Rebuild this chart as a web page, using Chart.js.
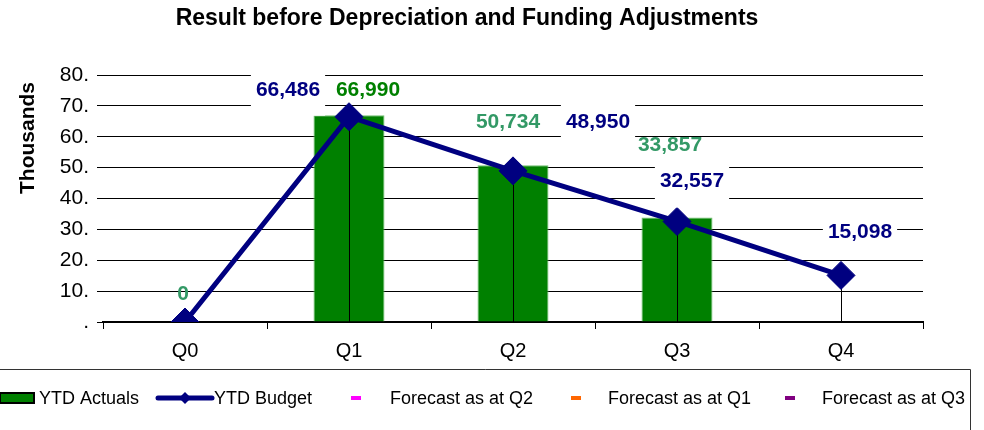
<!DOCTYPE html>
<html>
<head>
<meta charset="utf-8">
<title>Result before Depreciation and Funding Adjustments</title>
<script src="https://cdn.jsdelivr.net/npm/chart.js@4.4.1/dist/chart.umd.min.js"></script>
<style>
  body { margin: 0; background: #fff; }
</style>
</head>
<body>
<canvas id="result-chart" width="984" height="430"></canvas>
<script>
// values are in thousands
const quarters = ["Q0", "Q1", "Q2", "Q3", "Q4"];
const ytdActuals = [0, 66.990, 50.734, 33.857, null];
const ytdBudget = [0, 66.486, 48.950, 32.557, 15.098];
const forecastQ2 = [null, null, null, null, null];
const forecastQ1 = [null, null, null, null, null];
const forecastQ3 = [null, null, null, null, null];
const yTickLabels = [".", "10.", "20.", "30.", "40.", "50.", "60.", "70.", "80."];

const FONT = "'Liberation Sans', Arial, sans-serif";
Chart.defaults.font.family = FONT;

// label placement relative to its point (the original labels were moved by hand)
const actualLabelPos = [[-2, -28], [19, -25], [-5, -43], [-7, -72], null];
const actualLabelColors = ["#339966", "#008000", "#339966", "#339966", null];
const budgetLabelPos = [null, [-61, -27], [85, -49], [15, -40], [19, -43]];

function fmt(v) {
    return Math.round(v * 1000).toString().replace(/\B(?=(\d{3})+(?!\d))/g, ",");
}

// thin black line from each budget point down to the axis, drawn over the bars
const dropLines = {
    id: "dropLines",
    afterDatasetDraw(chart, args) {
        if (args.index !== 0) return;
        const ctx = chart.ctx;
        const bottom = chart.scales.y.getPixelForValue(0);
        ctx.save();
        ctx.strokeStyle = "#000";
        ctx.lineWidth = 1;
        chart.getDatasetMeta(1).data.forEach((pt) => {
            const x = Math.round(pt.x) + 0.5;
            ctx.beginPath();
            ctx.moveTo(x, pt.y);
            ctx.lineTo(x, bottom);
            ctx.stroke();
        });
        ctx.restore();
    }
};

const valueLabels = {
    id: "valueLabels",
    afterDatasetsDraw(chart) {
        const ctx = chart.ctx;
        ctx.save();
        ctx.font = "bold 21px " + FONT;
        ctx.textAlign = "center";
        ctx.textBaseline = "middle";

        chart.getDatasetMeta(1).data.forEach((pt, i) => {
            const off = budgetLabelPos[i];
            if (!off || ytdBudget[i] == null) return;
            const txt = fmt(ytdBudget[i]);
            const x = pt.x + off[0], y = pt.y + off[1];
            const w = ctx.measureText(txt).width + 10;
            ctx.fillStyle = "#fff";
            ctx.fillRect(x - w / 2, y - 22, w, 48);
            ctx.fillStyle = "#000080";
            ctx.fillText(txt, x, y);
        });

        chart.getDatasetMeta(0).data.forEach((bar, i) => {
            const off = actualLabelPos[i];
            if (!off || ytdActuals[i] == null) return;
            ctx.fillStyle = actualLabelColors[i];
            ctx.fillText(fmt(ytdActuals[i]), bar.x + off[0], bar.y + off[1]);
        });
        ctx.restore();
    }
};

// chart title, axis title and the boxed legend underneath
const frameTexts = {
    id: "frameTexts",
    afterDraw(chart) {
        const ctx = chart.ctx;
        ctx.save();
        ctx.fillStyle = "#000";
        ctx.textAlign = "center";
        ctx.textBaseline = "middle";
        ctx.font = "bold 23px " + FONT;
        ctx.fillText("Result before Depreciation and Funding Adjustments", 467, 19);

        ctx.save();
        ctx.translate(28, 138);
        ctx.rotate(-Math.PI / 2);
        ctx.font = "bold 21px " + FONT;
        ctx.fillText("Thousands", 0, 0);
        ctx.restore();

        // legend frame
        ctx.strokeStyle = "#333";
        ctx.lineWidth = 1;
        ctx.beginPath();
        ctx.moveTo(0, 369.5);
        ctx.lineTo(970.5, 369.5);
        ctx.lineTo(970.5, 430);
        ctx.stroke();

        const ly = 398;
        const slots = [[0, 39], [156, 214], [351, 390], [571, 608], [785, 822]];
        ctx.font = "18px " + FONT;
        ctx.textAlign = "left";
        chart.data.datasets.forEach((ds, i) => {
            const [sx, tx] = slots[i];
            if (ds.legendSymbol === "box") {
                ctx.fillStyle = ds.backgroundColor;
                ctx.fillRect(sx, ly - 5, 34, 10);
                ctx.strokeStyle = "#000";
                ctx.lineWidth = 2;
                ctx.strokeRect(sx, ly - 5, 34, 10);
            } else if (ds.legendSymbol === "line") {
                ctx.strokeStyle = ds.borderColor;
                ctx.lineWidth = 5;
                ctx.lineCap = "round";
                ctx.beginPath();
                ctx.moveTo(sx + 2, ly);
                ctx.lineTo(tx - 2, ly);
                ctx.stroke();
                ctx.fillStyle = ds.borderColor;
                const cx = (sx + tx) / 2;
                ctx.beginPath();
                ctx.moveTo(cx, ly - 6);
                ctx.lineTo(cx + 6, ly);
                ctx.lineTo(cx, ly + 6);
                ctx.lineTo(cx - 6, ly);
                ctx.closePath();
                ctx.fill();
            } else {
                ctx.fillStyle = ds.borderColor;
                ctx.fillRect(sx, ly - 2, 10, 4);
            }
            ctx.fillStyle = "#000";
            ctx.fillText(ds.label, tx, ly + 1);
        });
        ctx.restore();
    }
};

const resultChart = new Chart(document.getElementById("result-chart"), {
    type: "bar",
    data: {
        labels: quarters,
        datasets: [
            {
                label: "YTD Actuals",
                data: ytdActuals,
                backgroundColor: "#008000",
                borderColor: "#6fbf6f",
                borderWidth: 1,
                barPercentage: 0.433,
                categoryPercentage: 1,
                order: 2,
                legendSymbol: "box"
            },
            {
                type: "line",
                label: "YTD Budget",
                data: ytdBudget,
                borderColor: "#000080",
                backgroundColor: "#000080",
                borderWidth: 5,
                pointStyle: "rectRot",
                pointRadius: 14,
                pointBackgroundColor: "#000080",
                pointBorderColor: "#000080",
                pointBorderWidth: 1,
                tension: 0,
                fill: false,
                order: 1,
                legendSymbol: "line"
            },
            { type: "line", label: "Forecast as at Q2", data: forecastQ2, borderColor: "#ff00ff", order: 0 },
            { type: "line", label: "Forecast as at Q1", data: forecastQ1, borderColor: "#ff6600", order: 0 },
            { type: "line", label: "Forecast as at Q3", data: forecastQ3, borderColor: "#800080", order: 0 }
        ]
    },
    options: {
        responsive: false,
        animation: false,
        layout: { padding: { top: 75, right: 61, left: 0, bottom: 0 } },
        plugins: {
            legend: { display: false },
            title: { display: false },
            tooltip: { enabled: false }
        },
        scales: {
            x: {
                grid: { offset: true, drawOnChartArea: false, drawTicks: true, tickLength: 7, color: "#000" },
                border: { display: true, color: "#000", width: 2 },
                ticks: { color: "#000", font: { size: 20 }, padding: 10 },
                afterFit(scale) { scale.height = 108; }
            },
            y: {
                min: 0,
                max: 80,
                ticks: {
                    stepSize: 10,
                    color: "#000",
                    font: { size: 21 },
                    padding: 8,
                    callback: (value, index) => yTickLabels[index]
                },
                grid: { color: "#000", lineWidth: 1, tickLength: 6 },
                border: { display: false },
                afterFit(scale) { scale.width = 103; }
            }
        }
    },
    plugins: [dropLines, valueLabels, frameTexts]
});
</script>
</body>
</html>
